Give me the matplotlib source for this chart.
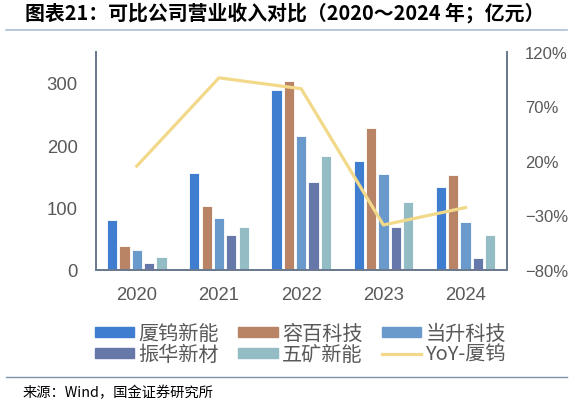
import matplotlib
matplotlib.use('Agg')
import matplotlib.pyplot as plt
import numpy as np
from matplotlib.lines import Line2D

plt.rcParams['font.family'] = ['Liberation Sans', 'Noto Sans CJK SC', 'DejaVu Sans']

# 数据（亿元）
years = ['2020', '2021', '2022', '2023', '2024']
xiamen_tungsten = [80, 156, 289, 174, 133]
ronbay = [38, 103, 303, 228, 152]
easpring = [32, 83, 214, 153, 77]
zhenhua = [10, 55, 140, 69, 19]
minmetals = [20, 68, 182, 108, 55]
yoy_xiamen = [15, 96, 86, -39, -23]

series_names = ['厦钨新能', '容百科技', '当升科技', '振华新材', '五矿新能']
series = [xiamen_tungsten, ronbay, easpring, zhenhua, minmetals]
colors = ['#3f7dd0', '#b98466', '#6a9acb', '#6677aa', '#94bcc4']
line_color = '#f2d98a'
axis_color = '#6b7a8f'
text_color = '#595959'

fig = plt.figure(figsize=(5.74, 4.06), dpi=100)
ax = fig.add_axes([0.1667, 0.3333, 0.716, 0.537])
ax2 = ax.twinx()

x = np.arange(len(years))
width = 0.125
step = 0.15
for i, (vals, c) in enumerate(zip(series, colors)):
    ax.bar(x + (i - 2) * step, vals, width, color=c, edgecolor='white',
           linewidth=0.6, zorder=2)

ax2.plot(x, yoy_xiamen, color=line_color, linewidth=2.3, zorder=3)

ax.set_xlim(-0.5, 4.5)
ax.set_ylim(0, 350)
ax.set_yticks([0, 100, 200, 300])
ax2.set_ylim(-80, 120)
ax2.set_yticks([-80, -30, 20, 70, 120])
ax2.set_yticklabels([f'{v}%'.replace('-', '\u2212') for v in [-80, -30, 20, 70, 120]])
ax.set_xticks(x)
ax.set_xticklabels(years)

for a in (ax, ax2):
    a.tick_params(length=0, colors=text_color)
    a.spines['top'].set_visible(False)
    for s in ('left', 'right', 'bottom'):
        a.spines[s].set_color(axis_color)
        a.spines[s].set_linewidth(1.4)
ax.tick_params(axis='x', pad=12, labelsize=13.3)
ax.tick_params(axis='y', pad=13, labelsize=13.3)
ax2.tick_params(axis='y', pad=13, labelsize=12)

# 图例
handles = [plt.Rectangle((0, 0), 1, 1, color=c) for c in colors]
handles.append(Line2D([0], [0], color=line_color, linewidth=2.3))
labels = series_names + ['YoY-厦钨']
order = [0, 3, 1, 4, 2, 5]
leg = fig.legend([handles[i] for i in order], [labels[i] for i in order],
                 loc='center', bbox_to_anchor=(0.5235, 0.150), ncol=3,
                 frameon=False, handlelength=1.95, handleheight=0.4,
                 columnspacing=0.95, labelspacing=0.0, handletextpad=0.22,
                 prop={'family': ['Noto Sans CJK SC', 'DejaVu Sans'], 'size': 14.5})
for t in leg.get_texts():
    t.set_color(text_color)

# 标题与来源
fig.text(0.044, 0.968, '图表21：可比公司营业收入对比（2020～2024 年；亿元）',
         fontsize=14.3, fontweight='bold', fontstyle='italic',
         family=['Noto Sans CJK SC', 'DejaVu Sans'], va='center', ha='left')
fig.add_artist(Line2D([0.01, 0.988], [0.924, 0.924], color='#a9c0d5', linewidth=1.2))
fig.add_artist(Line2D([0.01, 0.988], [0.070, 0.070], color='#7d93aa', linewidth=1.0))
fig.text(0.039, 0.033, '来源：Wind，国金证券研究所', fontsize=10.3,
         family=['Noto Sans CJK SC', 'DejaVu Sans'], va='center', ha='left')

fig.savefig('out.png', dpi=100)
